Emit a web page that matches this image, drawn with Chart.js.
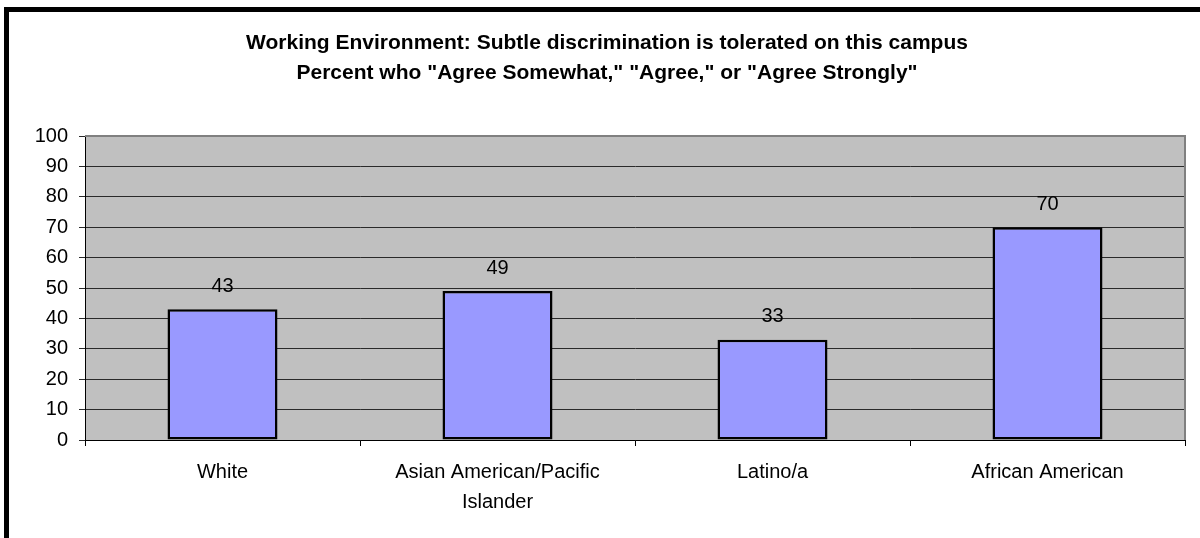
<!DOCTYPE html>
<html>
<head>
<meta charset="utf-8">
<script src="https://cdn.jsdelivr.net/npm/chart.js@4"></script>
<style>
  html, body { margin: 0; padding: 0; background: #fff; }
  #wrap { width: 1200px; height: 538px; position: relative; }
</style>
</head>
<body>
<div id="wrap"><canvas id="chart" width="1200" height="538"></canvas></div>
<script>
const categories = ["White", ["Asian American/Pacific", "Islander"], "Latino/a", "African American"];
const percentAgree = [43, 49, 33, 70];
const yTicks = [0, 10, 20, 30, 40, 50, 60, 70, 80, 90, 100];
const titleLines = ['Working Environment: Subtle discrimination is tolerated on this campus',
	'Percent who "Agree Somewhat," "Agree," or "Agree Strongly"'];

const fontFamily = "'Liberation Sans', Arial, sans-serif";

// frame, title, grey plot background
const backdrop = {
	id: 'backdrop',
	beforeDraw(chart) {
		const ctx = chart.ctx;
		const a = chart.chartArea;
		ctx.save();
		ctx.fillStyle = '#ffffff';
		ctx.fillRect(0, 0, chart.width, chart.height);
		ctx.strokeStyle = '#000';
		ctx.lineWidth = 5;
		ctx.strokeRect(6.5, 9.5, chart.width + 20, chart.height + 20);
		ctx.fillStyle = '#c0c0c0';
		ctx.fillRect(a.left, a.top, a.right - a.left, a.bottom - a.top);

		ctx.fillStyle = '#000';
		ctx.font = 'bold 21px ' + fontFamily;
		ctx.textAlign = 'center';
		ctx.textBaseline = 'middle';
		titleLines.forEach((t, i) => ctx.fillText(t, 607, 43 + i * 30));
		ctx.restore();
	},
	afterDatasetsDraw(chart) {
		const ctx = chart.ctx;
		const a = chart.chartArea;
		ctx.save();
		ctx.strokeStyle = '#808080';
		ctx.lineWidth = 2;
		ctx.beginPath();
		ctx.moveTo(a.left, a.top);
		ctx.lineTo(a.right, a.top);
		ctx.lineTo(a.right, a.bottom);
		ctx.stroke();
		// value labels
		ctx.fillStyle = '#000';
		ctx.font = '20px ' + fontFamily;
		ctx.textAlign = 'center';
		ctx.textBaseline = 'middle';
		chart.getDatasetMeta(0).data.forEach((bar, i) => {
			ctx.fillText(percentAgree[i], bar.x, bar.y - 23);
		});
		ctx.restore();
	}
};

new Chart(document.getElementById('chart'), {
	type: 'bar',
	data: {
		labels: categories,
		datasets: [{
			data: percentAgree,
			backgroundColor: '#9999ff',
			borderColor: '#000',
			borderWidth: 2.5,
			borderSkipped: false,
			barPercentage: 0.4,
			categoryPercentage: 1.0
		}]
	},
	options: {
		responsive: false,
		animation: false,
		layout: { padding: { left: 0, right: 15, top: 136, bottom: 0 } },
		plugins: {
			legend: { display: false },
			tooltip: { enabled: false },
			title: { display: false }
		},
		scales: {
			x: {
				offset: true,
				grid: { offset: true, drawOnChartArea: false, color: '#000', tickLength: 6 },
				border: { color: '#000' },
				ticks: {
					color: '#000',
					font: { family: fontFamily, size: 20, lineHeight: 30 / 20 },
					padding: 11,
					maxRotation: 0,
					autoSkip: false
				},
				afterFit(scale) { scale.height = 98; }
			},
			y: {
				min: 0,
				max: 100,
				afterBuildTicks(scale) { scale.ticks = yTicks.map(v => ({ value: v })); },
				grid: { color: '#2a2a2a', tickLength: 6 },
				border: { color: '#000' },
				ticks: {
					color: '#000',
					font: { family: fontFamily, size: 20 },
					padding: 11
				},
				afterFit(scale) { scale.width = 85; }
			}
		}
	},
	plugins: [backdrop]
});
</script>
</body>
</html>
